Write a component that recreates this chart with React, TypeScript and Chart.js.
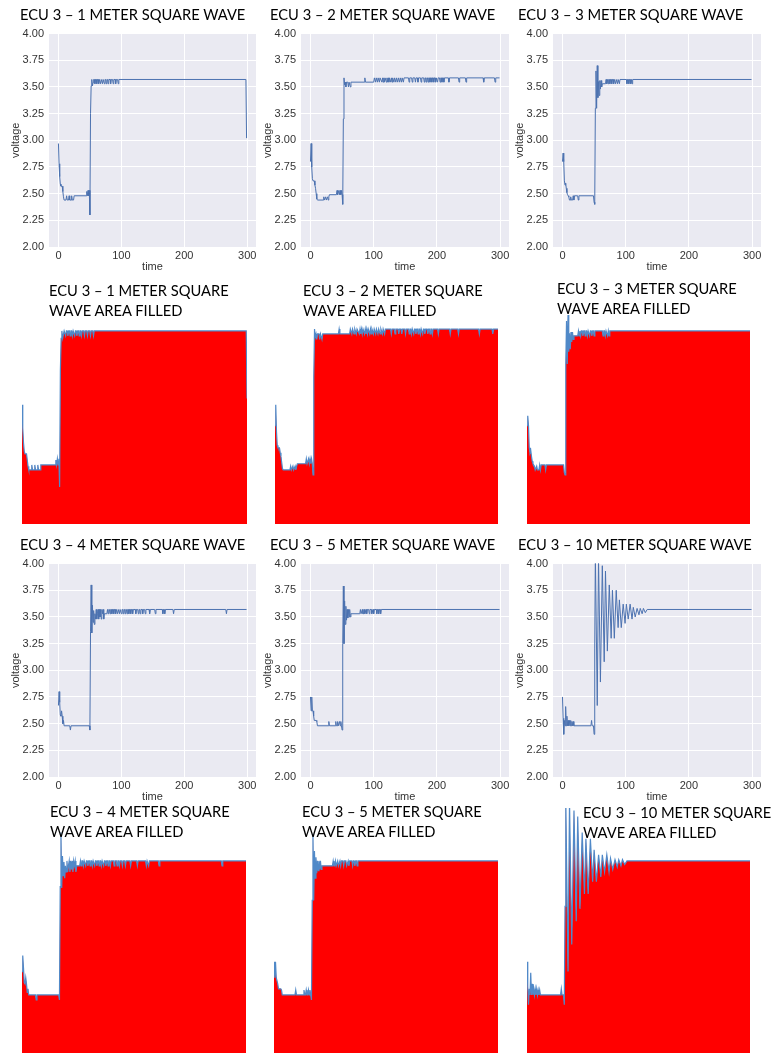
import React, { useEffect, useRef } from 'react';
import { Chart, registerables } from 'chart.js';

Chart.register(...registerables);

// ---------- tick labels ----------
const xTickValues = [0, 100, 200, 300];
const yTickValues = [2.0, 2.25, 2.5, 2.75, 3.0, 3.25, 3.5, 3.75, 4.0];

// ---------- titles ----------
const lineTitles = [
  'ECU 3 – 1 METER SQUARE WAVE',
  'ECU 3 – 2 METER SQUARE WAVE',
  'ECU 3 – 3 METER SQUARE WAVE',
  'ECU 3 – 4 METER SQUARE WAVE',
  'ECU 3 – 5 METER SQUARE WAVE',
  'ECU 3 – 10 METER SQUARE WAVE',
];
const filledTitlesLine1 = [
  'ECU 3 – 1 METER SQUARE',
  'ECU 3 – 2 METER SQUARE',
  'ECU 3 – 3 METER SQUARE',
  'ECU 3 – 4 METER SQUARE',
  'ECU 3 – 5 METER SQUARE',
  'ECU 3 – 10 METER SQUARE',
];
const filledTitleLine2 = 'WAVE AREA FILLED';

// ---------- data: [time, voltage] samples ----------
type Pt = [number, number];

const ecu1m: Pt[] = [
  [0, 2.97], [1, 2.78], [2, 2.66], [3, 2.59], [4, 2.57], [6, 2.57], [7, 2.52], [8, 2.47], [9, 2.44],
  [12, 2.44], [13, 2.48], [14, 2.44], [16, 2.44], [17, 2.48], [18, 2.44], [20, 2.44], [21, 2.48], [22, 2.44],
  [24, 2.44], [25, 2.48], [44, 2.48], [45, 2.52], [46, 2.48], [47, 2.53], [48, 2.48], [49, 2.53], [50, 2.30],
  [51, 3.25], [52, 3.51], [53, 3.57], [54, 3.51], [55, 3.54], [56, 3.57], [57, 3.57], [58, 3.53], [59, 3.57],
  [60, 3.57], [61, 3.53], [62, 3.57], [63, 3.57], [64, 3.53], [65, 3.57], [66, 3.57], [67, 3.53], [68, 3.57],
  [69, 3.57], [70, 3.53], [71, 3.57], [72, 3.57], [73, 3.53], [74, 3.57], [75, 3.57], [76, 3.53], [77, 3.57],
  [78, 3.57], [79, 3.53], [80, 3.57], [82, 3.57], [83, 3.53], [84, 3.57], [86, 3.57], [87, 3.53], [88, 3.57],
  [90, 3.57], [91, 3.53], [92, 3.57], [94, 3.57], [95, 3.53], [96, 3.57], [298, 3.57], [299, 3.02],
];

const ecu2m: Pt[] = [
  [0, 2.80], [1, 2.97], [2, 2.75], [3, 2.64], [4, 2.62], [6, 2.62], [7, 2.58], [8, 2.55], [9, 2.50], [10, 2.45],
  [11, 2.44], [20, 2.44], [21, 2.47], [22, 2.44], [24, 2.47], [25, 2.44], [27, 2.47], [28, 2.44], [29, 2.47],
  [30, 2.49], [41, 2.49], [42, 2.53], [43, 2.49], [45, 2.53], [46, 2.49], [47, 2.53], [48, 2.49], [49, 2.53],
  [50, 2.49], [51, 2.40], [52, 3.20], [53, 3.585], [54, 3.52], [55, 3.545], [56, 3.50], [57, 3.545], [59, 3.545],
  [60, 3.50], [61, 3.545], [63, 3.50], [64, 3.545], [85, 3.545], [86, 3.585], [87, 3.545], [100, 3.545],
  [101, 3.585], [103, 3.545], [104, 3.585], [106, 3.545], [107, 3.585], [109, 3.545], [110, 3.585],
  [113, 3.545], [114, 3.585], [115, 3.545], [116, 3.585], [117, 3.545], [118, 3.585], [120, 3.545], [121, 3.585],
  [122, 3.545], [123, 3.585], [124, 3.545], [125, 3.585], [127, 3.545], [128, 3.585], [129, 3.545], [130, 3.585],
  [132, 3.545], [133, 3.585], [135, 3.545], [136, 3.585], [138, 3.545], [139, 3.585], [141, 3.545], [142, 3.585],
  [144, 3.545], [145, 3.585], [147, 3.545], [148, 3.585],
  [155, 3.585], [156, 3.545], [157, 3.585], [160, 3.585], [161, 3.545], [162, 3.585], [165, 3.585], [166, 3.545],
  [167, 3.585], [169, 3.585], [170, 3.545], [171, 3.585], [174, 3.585], [175, 3.545], [176, 3.585], [179, 3.585],
  [180, 3.545], [181, 3.585], [182, 3.585], [183, 3.545], [184, 3.585], [185, 3.585], [186, 3.545], [187, 3.585],
  [188, 3.585], [189, 3.545], [190, 3.585], [191, 3.585], [192, 3.545], [193, 3.585], [194, 3.585], [195, 3.545],
  [196, 3.585], [197, 3.585], [198, 3.545], [199, 3.585], [200, 3.585], [201, 3.545], [202, 3.585], [204, 3.585],
  [205, 3.545], [206, 3.585], [207, 3.585], [208, 3.545], [209, 3.585], [210, 3.585], [211, 3.545], [212, 3.585],
  [218, 3.585], [219, 3.545], [220, 3.585], [234, 3.585], [235, 3.545], [236, 3.585], [245, 3.585], [246, 3.545],
  [247, 3.585], [273, 3.585], [274, 3.545], [275, 3.585], [291, 3.585], [292, 3.545], [293, 3.585], [299, 3.585],
];

const ecu3m: Pt[] = [
  [0, 2.80], [1, 2.88], [2, 2.80], [3, 2.62], [4, 2.58], [5, 2.60], [6, 2.55], [7, 2.51], [8, 2.49], [9, 2.48],
  [10, 2.47], [11, 2.44], [12, 2.44], [13, 2.47], [14, 2.44], [16, 2.44], [17, 2.48], [18, 2.44], [19, 2.48],
  [24, 2.48], [25, 2.44], [26, 2.48], [49, 2.48], [50, 2.42], [51, 2.40], [52, 3.30], [53, 3.65], [54, 3.30],
  [55, 3.70], [56, 3.40], [57, 3.55], [58, 3.42], [59, 3.56], [60, 3.48], [61, 3.56], [62, 3.50], [63, 3.53],
  [68, 3.53], [69, 3.57], [70, 3.53], [71, 3.57], [72, 3.53], [73, 3.57], [74, 3.57], [75, 3.53], [76, 3.57],
  [77, 3.57], [78, 3.53], [79, 3.57], [80, 3.57], [81, 3.53], [82, 3.57], [83, 3.57], [84, 3.53], [85, 3.57],
  [86, 3.57], [87, 3.53], [88, 3.57], [89, 3.57], [90, 3.53], [91, 3.57], [101, 3.57], [102, 3.53], [103, 3.57],
  [104, 3.57], [105, 3.53], [106, 3.57], [107, 3.57], [108, 3.53], [109, 3.57], [110, 3.53], [111, 3.57],
  [299, 3.57],
];

const ecu4m: Pt[] = [
  [0, 2.67], [1, 2.80], [2, 2.70], [3, 2.58], [4, 2.57], [5, 2.62], [6, 2.57], [7, 2.50], [8, 2.53], [9, 2.48],
  [18, 2.48], [19, 2.44], [20, 2.48], [49, 2.48], [50, 2.44], [51, 3.36], [52, 3.80], [53, 3.35], [54, 3.61],
  [55, 3.45], [56, 3.56], [57, 3.43], [58, 3.53], [59, 3.48], [60, 3.57], [61, 3.48], [62, 3.53], [63, 3.57],
  [64, 3.48], [65, 3.57], [66, 3.50], [67, 3.57], [68, 3.48], [69, 3.57], [70, 3.53], [71, 3.57], [72, 3.48],
  [73, 3.53], [77, 3.53], [78, 3.57], [79, 3.53], [80, 3.57], [81, 3.57], [82, 3.53], [83, 3.57], [84, 3.57],
  [85, 3.53], [86, 3.57], [87, 3.57], [88, 3.53], [89, 3.57], [90, 3.57], [91, 3.53], [92, 3.57], [93, 3.57],
  [94, 3.53], [95, 3.57], [96, 3.57], [97, 3.53], [98, 3.57], [99, 3.57], [100, 3.53], [101, 3.57], [102, 3.57],
  [103, 3.53], [104, 3.57], [105, 3.57], [106, 3.53], [107, 3.57], [108, 3.57], [109, 3.53], [110, 3.57],
  [111, 3.57], [112, 3.53], [113, 3.57], [114, 3.57], [115, 3.53], [116, 3.57], [117, 3.57], [118, 3.53],
  [119, 3.57], [122, 3.57], [123, 3.53], [124, 3.57], [126, 3.57], [127, 3.53], [128, 3.57], [129, 3.57],
  [130, 3.53], [131, 3.57], [133, 3.57], [134, 3.53], [135, 3.57], [137, 3.57], [138, 3.53], [139, 3.57],
  [144, 3.57], [145, 3.53], [146, 3.57], [153, 3.57], [154, 3.53], [155, 3.57], [165, 3.57], [166, 3.53],
  [167, 3.57], [168, 3.57], [169, 3.53], [170, 3.57], [182, 3.57], [183, 3.53], [184, 3.57], [266, 3.57],
  [267, 3.53], [268, 3.57], [299, 3.57],
];

const ecu5m: Pt[] = [
  [0, 2.75], [1, 2.62], [2, 2.75], [3, 2.62], [4, 2.62], [5, 2.57], [6, 2.53], [9, 2.53], [10, 2.52], [11, 2.48],
  [28, 2.48], [29, 2.52], [30, 2.48], [39, 2.48], [40, 2.52], [41, 2.48], [42, 2.48], [43, 2.52], [44, 2.48],
  [45, 2.48], [46, 2.52], [47, 2.48], [48, 2.52], [49, 2.48], [50, 2.44], [51, 3.25], [52, 3.79], [53, 3.25],
  [54, 3.65], [55, 3.43], [56, 3.60], [57, 3.47], [58, 3.57], [59, 3.49], [60, 3.57], [61, 3.50], [62, 3.57],
  [63, 3.50], [64, 3.53], [78, 3.53], [79, 3.57], [80, 3.53], [81, 3.53], [82, 3.57], [83, 3.53], [84, 3.53],
  [85, 3.57], [86, 3.53], [88, 3.57], [89, 3.53], [90, 3.57], [92, 3.57], [93, 3.53], [94, 3.57], [96, 3.57],
  [97, 3.53], [99, 3.57], [100, 3.53], [101, 3.57], [104, 3.57], [105, 3.53], [106, 3.57], [107, 3.57],
  [108, 3.53], [109, 3.57], [110, 3.57], [111, 3.53], [112, 3.57], [299, 3.57],
];

const ecu10m: Pt[] = [
  [0, 2.75], [1, 2.55], [2, 2.40], [3, 2.53], [4, 2.48], [5, 2.66], [6, 2.48], [7, 2.57], [8, 2.48], [9, 2.53],
  [10, 2.48], [11, 2.53], [12, 2.48], [13, 2.53], [14, 2.48], [15, 2.52], [16, 2.48], [17, 2.52], [18, 2.48],
  [45, 2.48], [46, 2.53], [47, 2.48], [49, 2.48], [50, 2.40], [51, 3.20], [52, 4.08], [55, 2.67], [57, 4.05],
  [60, 2.89], [63, 3.98], [66, 3.08], [68, 3.93], [71, 3.18], [74, 3.80], [77, 3.30], [79, 3.75], [82, 3.30],
  [85, 3.75], [88, 3.40], [90, 3.66], [93, 3.40], [96, 3.62], [99, 3.44], [101, 3.62], [104, 3.48], [107, 3.62],
  [110, 3.48], [112, 3.59], [115, 3.50], [118, 3.58], [121, 3.52], [123, 3.58], [126, 3.53], [128, 3.58],
  [131, 3.54], [134, 3.57], [299, 3.57],
];

const seriesList: Pt[][] = [ecu1m, ecu2m, ecu3m, ecu4m, ecu5m, ecu10m];

// ---------- layout (plot areas in page pixels) ----------
type Area = { l: number; t: number; r: number; b: number };
const lineAreas: Area[] = [
  { l: 49, t: 32, r: 256, b: 247 },
  { l: 301, t: 32, r: 509, b: 247 },
  { l: 553, t: 32, r: 761, b: 247 },
  { l: 49, t: 562, r: 256, b: 777 },
  { l: 301, t: 562, r: 509, b: 777 },
  { l: 553, t: 562, r: 761, b: 777 },
];
const fillAreas: Area[] = [
  { l: 22, t: 278, r: 247, b: 524 },
  { l: 275, t: 278, r: 498, b: 524 },
  { l: 527, t: 278, r: 750, b: 524 },
  { l: 22, t: 808, r: 246, b: 1054 },
  { l: 274, t: 808, r: 498, b: 1054 },
  { l: 527, t: 808, r: 750, b: 1054 },
];
const lineTitlePos = [
  { x: 20, y: 4 }, { x: 270, y: 4 }, { x: 518, y: 4 },
  { x: 20, y: 534 }, { x: 270, y: 534 }, { x: 518, y: 534 },
];
const fillTitlePos = [
  { x: 49, y: 280 }, { x: 303, y: 280 }, { x: 557, y: 278 },
  { x: 50, y: 801 }, { x: 302, y: 801 }, { x: 583, y: 802 },
];

const AXIS_FONT = "'Liberation Sans', Arial, sans-serif";
const TITLE_FONT = "Lato, 'Open Sans', sans-serif";

const plotBg = {
  id: 'plotBg',
  beforeDraw(chart: any, _args: any, opts: any) {
    if (!opts || !opts.color) return;
    const { ctx, chartArea: a } = chart;
    ctx.save();
    ctx.fillStyle = opts.color;
    ctx.fillRect(a.left, a.top, a.right - a.left, a.bottom - a.top);
    ctx.restore();
  },
};

function toPoints(pts: Pt[]) {
  return pts.map(([x, y]) => ({ x, y }));
}

const PAD_L = 48, PAD_T = 10, PAD_R = 8, PAD_B = 29;

function LinePanel({ series, area }: { series: Pt[]; area: Area }) {
  const ref = useRef<HTMLCanvasElement>(null);
  const w = area.r - area.l + PAD_L + PAD_R;
  const h = area.b - area.t + PAD_T + PAD_B;
  useEffect(() => {
    const chart = new Chart(ref.current as HTMLCanvasElement, {
      type: 'line',
      data: {
        datasets: [
          {
            data: toPoints(series),
            borderColor: '#4C72B0',
            borderWidth: 1,
            pointRadius: 0,
            tension: 0,
            fill: false,
          },
        ],
      },
      plugins: [plotBg as any],
      options: {
        responsive: false,
        animation: false,
        devicePixelRatio: 1,
        layout: { padding: { top: PAD_T, right: PAD_R, left: 0, bottom: 0 } },
        plugins: {
          legend: { display: false },
          tooltip: { enabled: false },
          plotBg: { color: '#EAEAF2' },
        } as any,
        scales: {
          x: {
            type: 'linear',
            min: -15,
            max: 314,
            afterBuildTicks: (axis: any) => {
              axis.ticks = xTickValues.map((value) => ({ value }));
            },
            afterFit: (axis: any) => {
              axis.height = PAD_B;
            },
            grid: { color: '#ffffff', lineWidth: 1, drawTicks: false },
            border: { display: false },
            ticks: {
              padding: 2,
              color: '#333333',
              font: { family: AXIS_FONT, size: 11 },
              callback: (val: any) => String(val),
            },
            title: {
              display: true,
              text: 'time',
              color: '#333333',
              font: { family: AXIS_FONT, size: 11 },
              padding: { top: 0, bottom: 2 },
            },
          },
          y: {
            type: 'linear',
            min: 2,
            max: 4,
            afterBuildTicks: (axis: any) => {
              axis.ticks = yTickValues.map((value) => ({ value }));
            },
            afterFit: (axis: any) => {
              axis.width = PAD_L;
            },
            grid: { color: '#ffffff', lineWidth: 1, drawTicks: false },
            border: { display: false },
            ticks: {
              padding: 5,
              color: '#333333',
              font: { family: AXIS_FONT, size: 11 },
              callback: (val: any) => Number(val).toFixed(2),
            },
            title: {
              display: true,
              text: 'voltage',
              color: '#333333',
              font: { family: AXIS_FONT, size: 11 },
              padding: { top: 8, bottom: 0 },
            },
          },
        },
      },
    });
    return () => chart.destroy();
  }, []);
  return (
    <canvas
      ref={ref}
      width={w}
      height={h}
      style={{ position: 'absolute', left: area.l - PAD_L, top: area.t - PAD_T, width: w, height: h }}
    />
  );
}

function FillPanel({ series, area }: { series: Pt[]; area: Area }) {
  const ref = useRef<HTMLCanvasElement>(null);
  const w = area.r - area.l;
  const h = area.b - area.t;
  useEffect(() => {
    const chart = new Chart(ref.current as HTMLCanvasElement, {
      type: 'line',
      data: {
        datasets: [
          {
            data: toPoints(series),
            borderColor: '#5089c8',
            borderWidth: 1.2,
            backgroundColor: '#ff0000',
            pointRadius: 0,
            tension: 0,
            fill: 'start',
          },
        ],
      },
      options: {
        responsive: false,
        animation: false,
        devicePixelRatio: 1,
        layout: { padding: 0 },
        plugins: { legend: { display: false }, tooltip: { enabled: false } },
        scales: {
          x: { type: 'linear', min: 0, max: 299, display: false },
          y: { type: 'linear', min: 2, max: 4, display: false },
        },
      },
    });
    return () => chart.destroy();
  }, []);
  return (
    <canvas
      ref={ref}
      width={w}
      height={h}
      style={{ position: 'absolute', left: area.l, top: area.t, width: w, height: h }}
    />
  );
}

const titleStyle: React.CSSProperties = {
  position: 'absolute',
  fontFamily: TITLE_FONT,
  fontSize: 14.7,
  lineHeight: '20px',
  color: '#000',
  whiteSpace: 'nowrap',
};

export default function App() {
  return (
    <div
      style={{
        position: 'absolute',
        left: 0,
        top: 0,
        width: 773,
        height: 1053,
        overflow: 'hidden',
        background: '#ffffff',
      }}
    >
      {seriesList.map((s, i) => (
        <LinePanel key={'l' + i} series={s} area={lineAreas[i]} />
      ))}
      {seriesList.map((s, i) => (
        <FillPanel key={'f' + i} series={s} area={fillAreas[i]} />
      ))}
      {lineTitles.map((txt, i) => (
        <div key={'lt' + i} style={{ ...titleStyle, left: lineTitlePos[i].x, top: lineTitlePos[i].y }}>
          {txt}
        </div>
      ))}
      {filledTitlesLine1.map((txt, i) => (
        <div key={'ft' + i} style={{ ...titleStyle, left: fillTitlePos[i].x, top: fillTitlePos[i].y }}>
          {txt}
          <br />
          {filledTitleLine2}
        </div>
      ))}
    </div>
  );
}
